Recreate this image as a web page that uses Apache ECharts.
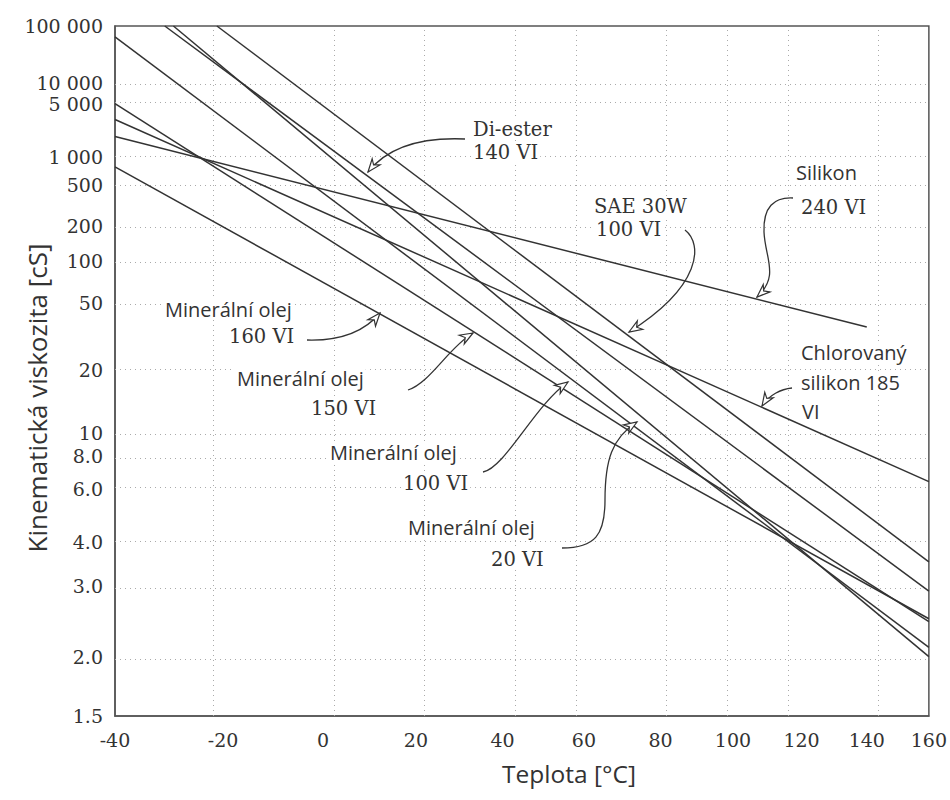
<!DOCTYPE html>
<html><head><meta charset="utf-8">
<script src="https://cdn.jsdelivr.net/npm/echarts@6/dist/echarts.min.js"></script>
<style>html,body{margin:0;padding:0;background:#fff}#c{width:950px;height:800px}</style>
</head><body><div id="c"></div>
<script>
// ---- data (temperature °C, kinematic viscosity cSt) ----
const tempTicks = [-40, -20, 0, 20, 40, 60, 80, 100, 120, 140, 160];
const tempTickLabels = ['-40', '-20', '0', '20', '40', '60', '80', '100', '120', '140', '160'];
const viscTicks = [1.5, 2, 3, 4, 6, 8, 10, 20, 50, 100, 200, 500, 1000, 5000, 10000, 100000];
const viscTickLabels = ['1.5', '2.0', '3.0', '4.0', '6.0', '8.0', '10', '20', '50', '100', '200', '500', '1 000', '5 000', '10 000', '100 000'];

const diEster      = [[-31.0, 100000], [160, 2.9]];
const sae30w       = [[-21.2, 100000], [160, 3.5]];
const silikon      = [[-40, 1800], [140, 35]];
const chlorSilikon = [[-40, 3000], [160, 6.4]];
const mineral160   = [[-40, 780], [160, 2.46]];
const mineral150   = [[-40, 5000], [160, 2.42]];
const mineral100   = [[-40, 62000], [160, 2.1]];
const mineral20    = [[-29.4, 100000], [160, 2.0]];

const seriesList = [
  ['Di-ester 140 VI', diEster],
  ['SAE 30W 100 VI', sae30w],
  ['Silikon 240 VI', silikon],
  ['Chlorovaný silikon 185 VI', chlorSilikon],
  ['Minerální olej 160 VI', mineral160],
  ['Minerální olej 150 VI', mineral150],
  ['Minerální olej 100 VI', mineral100],
  ['Minerální olej 20 VI', mineral20]
];

// ---- chart scales (ASTM viscosity-temperature paper) ----
const tx = t => Math.log10(t + 273.15);
const ty = v => Math.log10(Math.log10(v + 0.7));

const SERIF = '"DejaVu Serif", "Liberation Serif", serif';
const SANS = '"Open Sans", "Noto Sans", sans-serif';
const INK = '#333';

function nearestLabel(ticks, labels) {
  return function (val) {
    let best = 0, bd = Infinity;
    ticks.forEach((t, i) => { const d = Math.abs(t - val); if (d < bd) { bd = d; best = i; } });
    return labels[best];
  };
}
const xt = tempTicks.map(tx);
const yt = viscTicks.map(ty);

// ---- annotation layout (pixels) ----
const notes = [
  { texts: [['Di-ester', SERIF, 471, 129], ['140 VI', SERIF, 471, 152]],
    curves: [[465, 139, 420, 137, 387, 148, 368, 172]] },
  { texts: [['SAE 30W', SERIF, 592, 206], ['100 VI', SERIF, 594, 229]],
    curves: [[685, 230, 703, 244, 702, 286, 629, 332]] },
  { texts: [['Silikon', SANS, 794, 172], ['240 VI', SERIF, 799, 207]],
    curves: [[793, 198, 774, 197, 763, 207, 764, 232], [764, 232, 765, 258, 780, 276, 757, 297]] },
  { texts: [['Chlorovaný', SANS, 799, 352], ['silikon 185', SANS, 799, 382], ['VI', SANS, 800, 411]],
    curves: [[792, 388, 781, 389, 769, 395, 762, 406]] },
  { texts: [['Minerální olej', SANS, 163, 309], ['160 VI', SERIF, 227, 336]],
    curves: [[307, 340, 340, 341, 365, 331, 380, 313]] },
  { texts: [['Minerální olej', SANS, 235, 378], ['150 VI', SERIF, 309, 408]],
    curves: [[408, 390, 430, 383, 449, 347, 473, 333]] },
  { texts: [['Minerální olej', SANS, 328, 452], ['100 VI', SERIF, 401, 483]],
    curves: [[483, 472, 505, 468, 535, 405, 568, 382]] },
  { texts: [['Minerální olej', SANS, 406, 527], ['20 VI', SERIF, 489, 559]],
    curves: [[562, 548, 595, 548, 605, 535, 605, 500], [605, 500, 605, 460, 612, 438, 637, 422]] }
];

const graphics = [];
notes.forEach(n => {
  n.texts.forEach(([t, fam, x, y]) => {
    const serif = fam === SERIF;
    graphics.push({
      type: 'text', x: x, y: y, z: 100,
      style: {
        text: t, fill: INK, fontFamily: fam, fontSize: serif ? 19.5 : 20,
        align: 'left', verticalAlign: 'middle', textAlign: 'left', textVerticalAlign: 'middle',
        backgroundColor: '#fff', padding: [0, 2]
      }
    });
  });
  n.curves.forEach((c, i) => {
    graphics.push({
      type: 'bezierCurve', z: 101,
      shape: { x1: c[0], y1: c[1], cpx1: c[2], cpy1: c[3], cpx2: c[4], cpy2: c[5], x2: c[6], y2: c[7] },
      style: { stroke: INK, lineWidth: 1.3, fill: 'none' }
    });
    if (i === n.curves.length - 1) {
      const dx = c[6] - c[4], dy = c[7] - c[5];
      const len = Math.hypot(dx, dy) || 1;
      const ux = dx / len, uy = dy / len;
      const L = 13, W = 5;
      const bx = c[6] - ux * L, by = c[7] - uy * L;
      graphics.push({
        type: 'polygon', z: 102,
        shape: { points: [[c[6], c[7]], [bx - uy * W, by + ux * W], [c[6] - ux * (L - 4), c[7] - uy * (L - 4)], [bx + uy * W, by - ux * W]] },
        style: { stroke: INK, lineWidth: 1.2, fill: '#fff' }
      });
    }
  });
});
graphics.push({
  type: 'text', x: 37, y: 398, rotation: Math.PI / 2, z: 100,
  style: { text: 'Kinematická viskozita [cS]', fill: INK, fontFamily: SANS, fontSize: 26,
    align: 'center', verticalAlign: 'middle', textAlign: 'center', textVerticalAlign: 'middle' }
});
graphics.push({
  type: 'text', x: 569, y: 773, z: 100,
  style: { text: 'Teplota [°C]', fill: INK, fontFamily: SANS, fontSize: 24.5,
    align: 'center', verticalAlign: 'middle', textAlign: 'center', textVerticalAlign: 'middle' }
});

const gridLineData = yt.slice(1, -1).map(v => ({ yAxis: v }))
  .concat(xt.slice(1, -1).map(v => ({ xAxis: v })));

const chart = echarts.init(document.getElementById('c'), null, { renderer: 'svg' });
chart.setOption({
  animation: false,
  backgroundColor: '#fff',
  grid: { left: 115, right: 21, top: 26, bottom: 84, show: true, borderColor: '#555', borderWidth: 1.5 },
  xAxis: {
    type: 'value', min: tx(-40), max: tx(160),
    axisLine: { show: true, onZero: false, lineStyle: { color: '#555', width: 1.5 } },
    axisTick: { show: false, customValues: xt },
    axisLabel: { customValues: xt, formatter: nearestLabel(xt, tempTickLabels),
      fontFamily: SERIF, fontSize: 19, color: INK, margin: 14 },
    splitLine: { show: false }
  },
  yAxis: {
    type: 'value', min: ty(1.5), max: ty(100000),
    axisLine: { show: true, onZero: false, lineStyle: { color: '#555', width: 1.5 } },
    axisTick: { show: false, customValues: yt },
    axisLabel: { customValues: yt, formatter: nearestLabel(yt, viscTickLabels),
      fontFamily: SERIF, fontSize: 19, color: INK, margin: 12 },
    splitLine: { show: false }
  },
  series: [{
    name: 'grid', type: 'line', data: [], z: 1, silent: true,
    markLine: {
      z: 1, silent: true, symbol: ['none', 'none'], label: { show: false },
      lineStyle: { type: [1, 4], color: '#aaa', width: 1 },
      emphasis: { disabled: true },
      data: gridLineData
    }
  }].concat(seriesList.map(([name, pts]) => ({
    name: name, type: 'line', symbol: 'none', silent: true, z: 2,
    data: pts.map(([t, v]) => [tx(t), ty(v)]),
    lineStyle: { color: INK, width: 1.5 }
  }))),
  graphic: graphics
});
</script></body></html>
